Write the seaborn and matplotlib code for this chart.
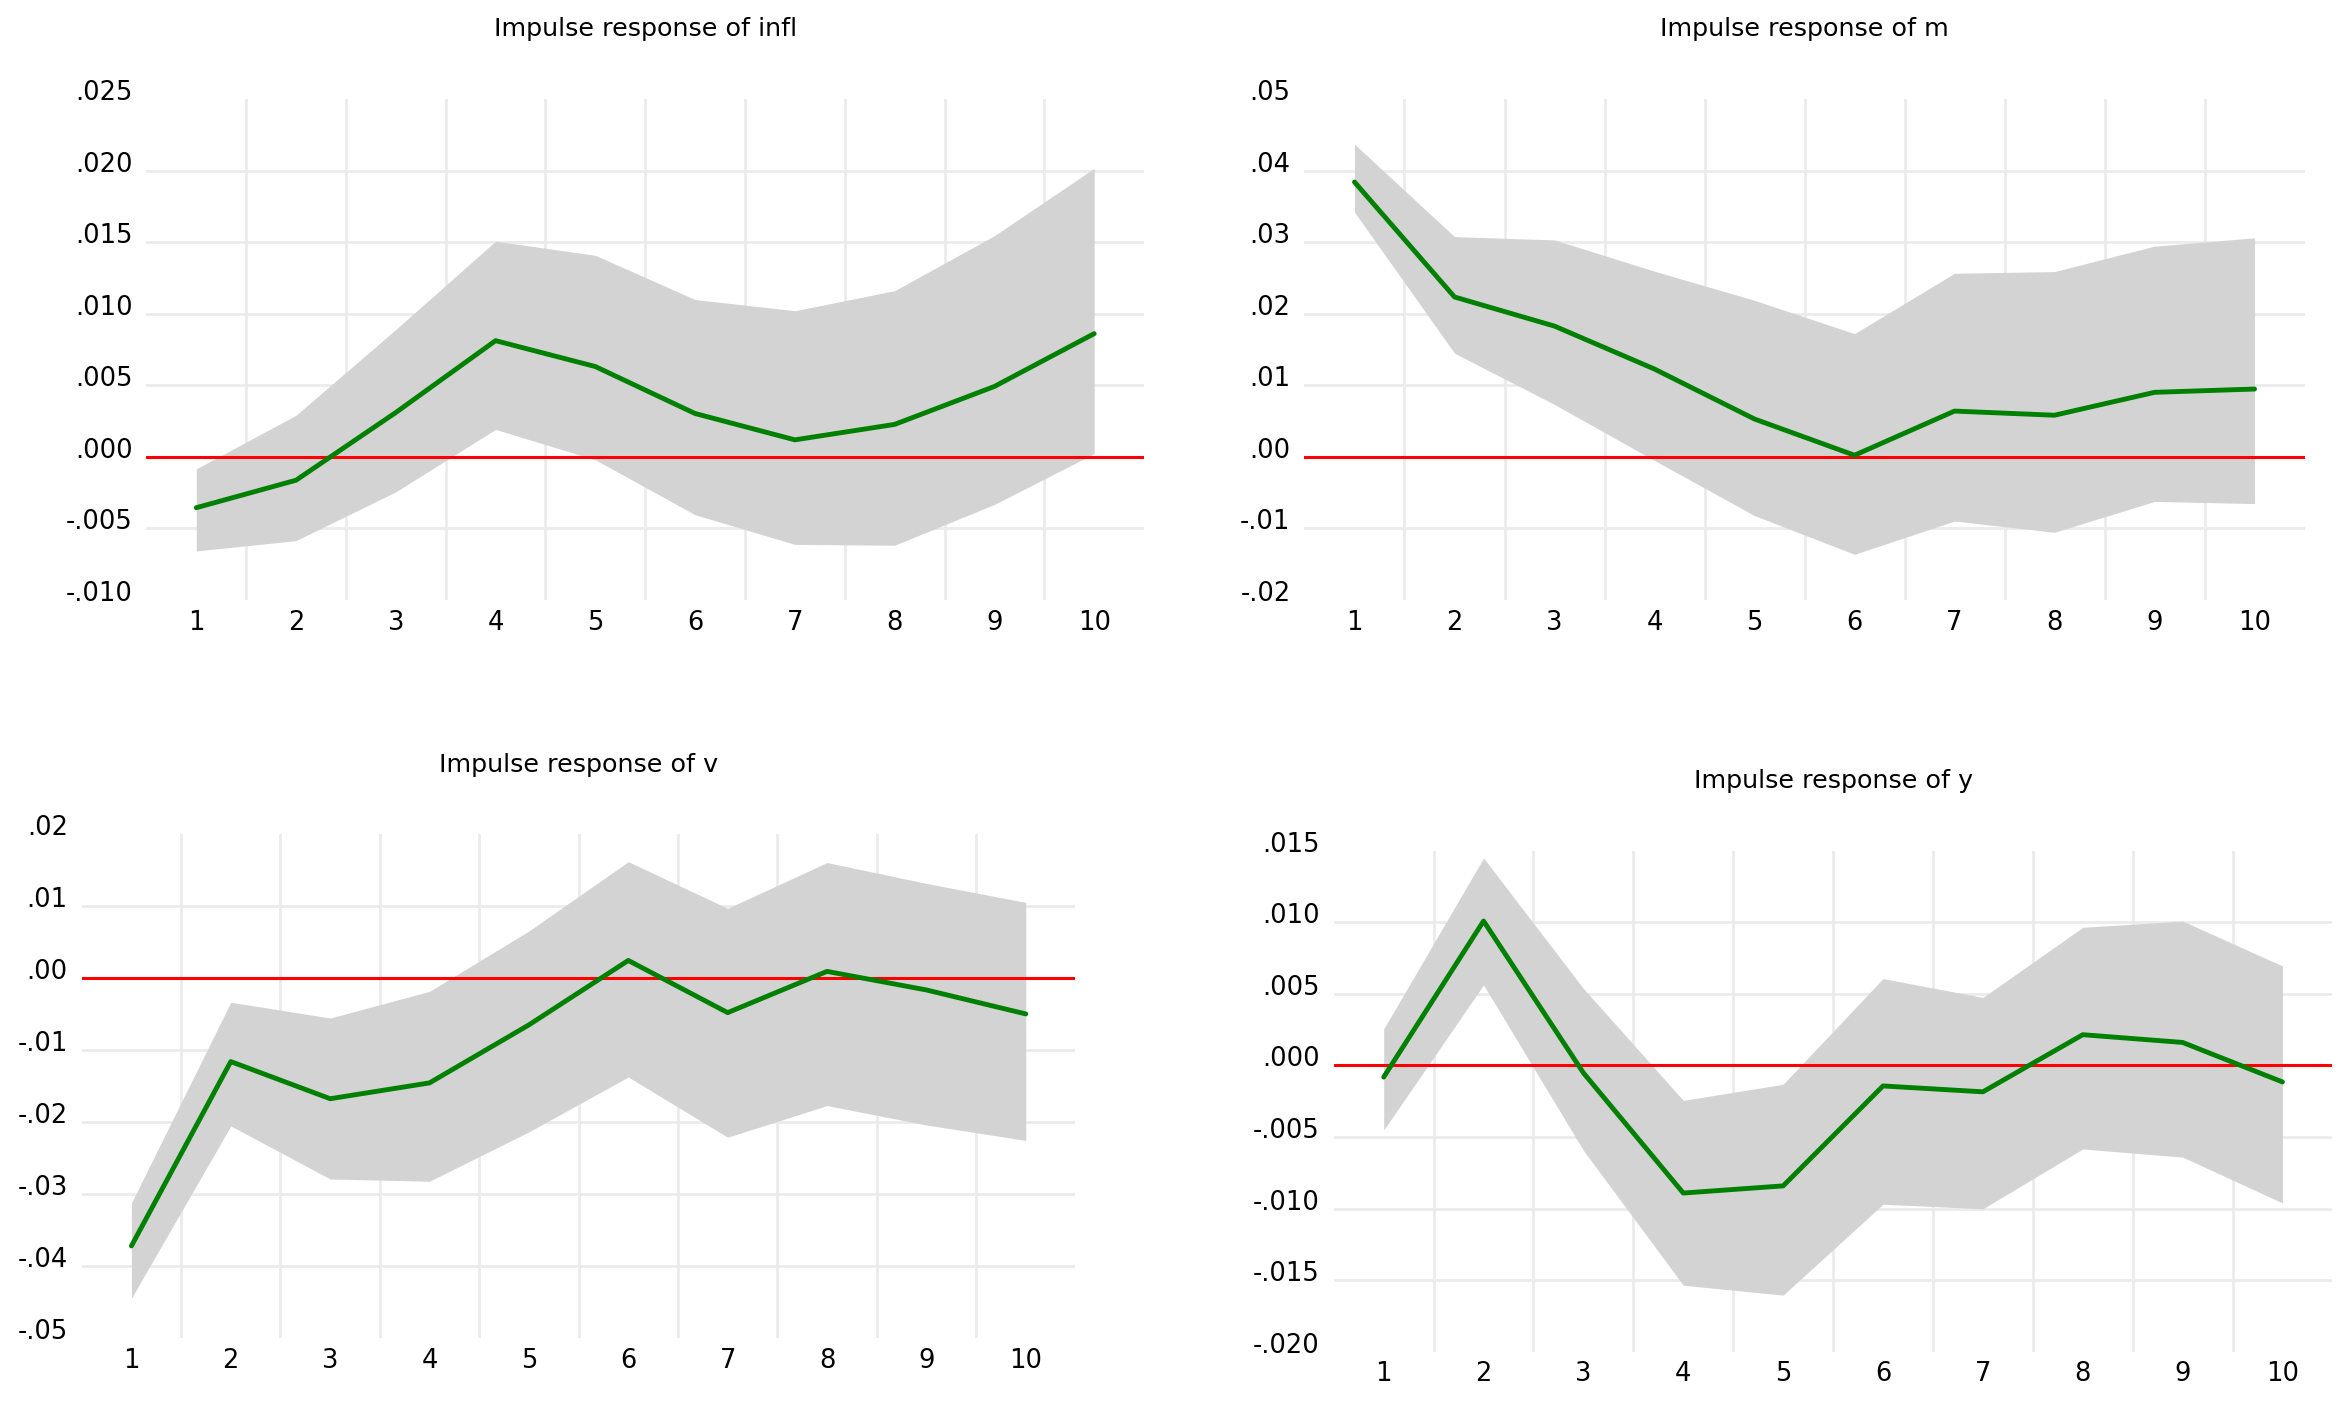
import numpy as np
import pandas as pd
import matplotlib
matplotlib.use("Agg")
import matplotlib.pyplot as plt
import matplotlib.transforms as mtransforms
import seaborn as sns

sns.set_theme(style="white")
plt.rcParams['font.family'] = ['DejaVu Sans']

periods = [1, 2, 3, 4, 5, 6, 7, 8, 9, 10]

infl_resp = [-0.00355, -0.00163, 0.0031, 0.00812, 0.00631, 0.00303, 0.00119, 0.00227, 0.00492, 0.00861]
infl_upper = [-0.00084, 0.00291, 0.0089, 0.01507, 0.01408, 0.01099, 0.01021, 0.01161, 0.01545, 0.02016]
infl_lower = [-0.00657, -0.00585, -0.00244, 0.00192, -0.0002, -0.00404, -0.00611, -0.00617, -0.00332, 0.00023]

m_resp = [0.0384, 0.02234, 0.01827, 0.01227, 0.00529, 0.00023, 0.0064, 0.00582, 0.00902, 0.00948]
m_upper = [0.04369, 0.03077, 0.03031, 0.02594, 0.02187, 0.01722, 0.02565, 0.02589, 0.02944, 0.0306]
m_lower = [0.0342, 0.01449, 0.00733, -0.0005, -0.0082, -0.01361, -0.00896, -0.01053, -0.00622, -0.00652]

v_resp = [-0.0372, -0.01159, -0.01675, -0.01455, -0.00649, 0.00246, -0.00479, 0.00094, -0.00164, -0.00497]
v_upper = [-0.03123, -0.00334, -0.00554, -0.00183, 0.00655, 0.01618, 0.0097, 0.01606, 0.01316, 0.01052]
v_lower = [-0.04446, -0.02053, -0.0279, -0.02821, -0.02135, -0.01373, -0.0221, -0.0177, -0.0204, -0.02254]

y_resp = [-0.00082, 0.01008, -0.00053, -0.00892, -0.00842, -0.00144, -0.00185, 0.00214, 0.0016, -0.00116]
y_upper = [0.00254, 0.01448, 0.00537, -0.00245, -0.00132, 0.00606, 0.00474, 0.00964, 0.01008, 0.00694]
y_lower = [-0.00452, 0.00562, -0.00594, -0.01536, -0.01605, -0.0097, -0.01002, -0.00584, -0.00641, -0.00961]

infl_ticks = [-0.010, -0.005, 0.000, 0.005, 0.010, 0.015, 0.020, 0.025]
infl_ticklabels = ["-.010", "-.005", ".000", ".005", ".010", ".015", ".020", ".025"]
m_ticks = [-0.02, -0.01, 0.00, 0.01, 0.02, 0.03, 0.04, 0.05]
m_ticklabels = ["-.02", "-.01", ".00", ".01", ".02", ".03", ".04", ".05"]
v_ticks = [-0.05, -0.04, -0.03, -0.02, -0.01, 0.00, 0.01, 0.02]
v_ticklabels = ["-.05", "-.04", "-.03", "-.02", "-.01", ".00", ".01", ".02"]
y_ticks = [-0.020, -0.015, -0.010, -0.005, 0.000, 0.005, 0.010, 0.015]
y_ticklabels = ["-.020", "-.015", "-.010", "-.005", ".000", ".005", ".010", ".015"]

titles = ["Impulse response of infl", "Impulse response of m",
          "Impulse response of v", "Impulse response of y"]

panels = [
    (titles[0], infl_resp, infl_upper, infl_lower, infl_ticks, infl_ticklabels, [0.0625, 0.572, 0.426, 0.3574]),
    (titles[1], m_resp, m_upper, m_lower, m_ticks, m_ticklabels, [0.557, 0.572, 0.427, 0.3574]),
    (titles[2], v_resp, v_upper, v_lower, v_ticks, v_ticklabels, [0.0349, 0.0456, 0.4243, 0.3594]),
    (titles[3], y_resp, y_upper, y_lower, y_ticks, y_ticklabels, [0.5695, 0.0359, 0.4264, 0.3574]),
]

fig = plt.figure(figsize=(23.42, 14.02), dpi=100)
fig.patch.set_facecolor("white")

grid_color = "#ebebeb"

for title, resp, upper, lower, ticks, ticklabels, rect in panels:
    ax = fig.add_axes(rect)
    ax.set_facecolor("white")
    df = pd.DataFrame({"period": periods, "resp": resp, "upper": upper, "lower": lower})
    ax.fill_between(df["period"], df["lower"], df["upper"], color="#d3d3d3", linewidth=0, zorder=1)
    ax.axhline(0, color="#ff0000", linewidth=2.2, zorder=2)
    sns.lineplot(data=df, x="period", y="resp", ax=ax, color="#008000", linewidth=3.5, zorder=3)

    ax.set_xlim(0.5, 10.5)
    ax.set_ylim(ticks[0], ticks[-1])
    ax.set_xticks(periods)
    ax.set_xticklabels([str(p) for p in periods])
    ax.set_xticks([p + 0.5 for p in periods[:-1]], minor=True)
    ax.set_yticks(ticks)
    ax.set_yticklabels(ticklabels)

    ax.set_axisbelow(True)
    ax.grid(False)
    ax.grid(axis="x", which="minor", color=grid_color, linewidth=2)
    ax.grid(axis="y", which="major", color=grid_color, linewidth=2)
    ylines = ax.yaxis.get_gridlines()
    ylines[0].set_visible(False)
    ylines[-1].set_visible(False)

    for s in ax.spines.values():
        s.set_visible(False)
    ax.tick_params(axis="both", which="both", length=0)
    ax.tick_params(axis="y", labelsize=18.5, pad=10, labelcolor="black")
    ax.tick_params(axis="x", labelsize=18.5, pad=7, labelcolor="black")
    offset = mtransforms.ScaledTranslation(0, 9 / 100, fig.dpi_scale_trans)
    for lab in ax.get_yticklabels():
        lab.set_transform(lab.get_transform() + offset)

    ax.set_xlabel("")
    ax.set_ylabel("")
    ax.set_title(title, fontsize=18.3, pad=45, color="black")

fig.savefig("out.png", dpi=100, facecolor="white")
